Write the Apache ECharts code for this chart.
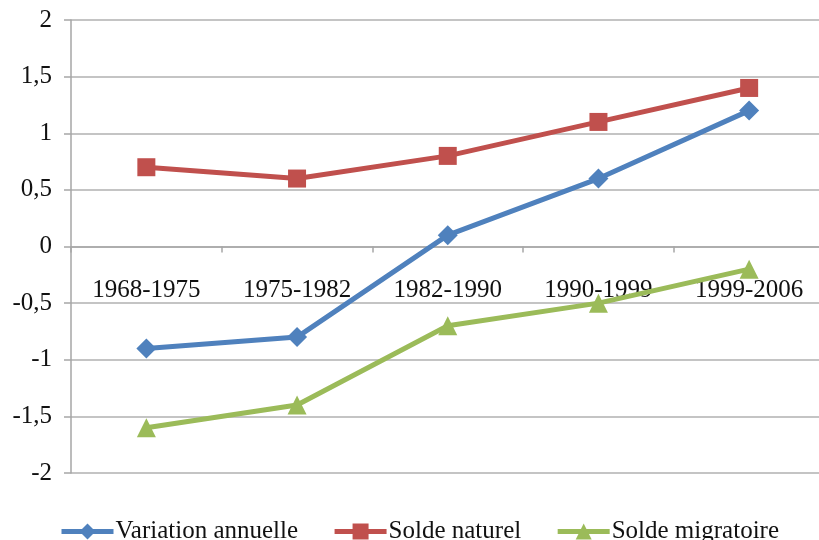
<!DOCTYPE html>
<html><head><meta charset="utf-8">
<script src="https://cdn.jsdelivr.net/npm/echarts@6/dist/echarts.min.js"></script>
<style>html,body{margin:0;padding:0;background:#fff}#c{width:819px;height:540px}</style>
</head><body><div id="c"></div>
<script>
const categories = ['1968-1975','1975-1982','1982-1990','1990-1999','1999-2006'];
const variationAnnuelle = [-0.9, -0.8, 0.1, 0.6, 1.2];
const soldeNaturel = [0.7, 0.6, 0.8, 1.1, 1.4];
const soldeMigratoire = [-1.6, -1.4, -0.7, -0.5, -0.2];
const yTicks = {min: -2, max: 2, interval: 0.5};

const font = 'Liberation Serif';
const chart = echarts.init(document.getElementById('c'), null, {renderer: 'canvas'});
function mk(name, data, color, symbol, size) {
  return {name, type: 'line', data, symbol, symbolSize: size, color,
    lineStyle: {width: 5, color}, itemStyle: {color}, animation: false};
}
chart.setOption({
  animation: false,
  textStyle: {fontFamily: font},
  grid: {left: 71, width: 753.5, top: 20, height: 453, containLabel: false, outerBoundsMode: 'none'},
  xAxis: {type: 'category', data: categories, boundaryGap: true,
    offset: -226.5,
    axisLine: {onZero: false, lineStyle: {color: '#a6a6a6', width: 1.5}},
    axisTick: {show: true, length: 6, lineStyle: {color: '#a6a6a6', width: 1.5}},
    axisLabel: {fontFamily: font, fontSize: 25, color: '#111', margin: 31, interval: 0},
    splitLine: {show: false}},
  yAxis: {type: 'value', min: yTicks.min, max: yTicks.max, interval: yTicks.interval,
    axisLine: {show: true, lineStyle: {color: '#a6a6a6', width: 1.5}},
    axisTick: {show: true, length: 7, lineStyle: {color: '#a6a6a6', width: 1.5}},
    axisLabel: {fontFamily: font, fontSize: 25, color: '#111', margin: 19,
      formatter: v => String(v).replace('.', ',')},
    splitLine: {show: true, lineStyle: {color: '#b0b0b0', width: 1.5}}},
  legend: {top: 514, left: 54, itemWidth: 52, itemHeight: 20, itemGap: 34,
    lineStyle: {width: 5},
    textStyle: {fontFamily: font, fontSize: 25, color: '#111', padding: [0,0,0,-3]},
    data: ['Variation annuelle','Solde naturel','Solde migratoire']},
  series: [
    mk('Variation annuelle', variationAnnuelle, '#4f81bd', 'diamond', 20),
    mk('Solde naturel', soldeNaturel, '#c0504d', 'rect', 18),
    mk('Solde migratoire', soldeMigratoire, '#9bbb59', 'triangle', 19)
  ]
});
</script></body></html>
